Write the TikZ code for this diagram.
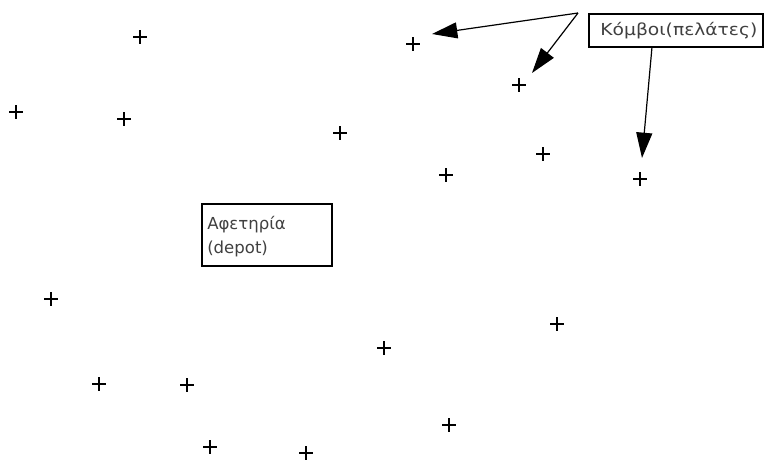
\documentclass[tikz,border=0pt]{standalone}
\usepackage{fontspec}
\setmainfont{DejaVu Sans}
\newfontfamily\widefont[FakeStretch=1.13]{DejaVu Sans}
\usetikzlibrary{shapes.misc,arrows.meta}
\begin{document}
\begin{tikzpicture}[x=0.75pt,y=-0.75pt,
  cross/.style={cross out,draw,rotate=45,minimum size=6.5pt,inner sep=0pt,line width=0.85pt},
  labelfont/.style={font=\fontsize{12.4}{18}\selectfont,text=black!75},
  labelbox/.style={draw,line width=0.9pt,inner sep=0pt,labelfont},
  pointer/.style={line width=0.9pt,-{Triangle[length=19pt,width=12pt]}}]
\useasboundingbox (0,0) rectangle (771,463);
\foreach \i/\x/\y in {1/140/37,2/413/44,3/519/85,4/16/112,5/124/119,6/340/133,7/543/154,8/446/175,9/640/179,10/51/299,11/557/324,12/384/348,13/99/384,14/187/385,15/449/425,16/210/447,17/306/453}
  \node[cross] (c\i) at (\x,\y) {};
\node[labelbox,minimum width=130.5pt,minimum height=24.75pt,text width=122pt,align=right] (nodes) at (676,30.5) {\widefont Κόμβοι(πελάτες)};
\node[labelbox,minimum width=97.5pt,minimum height=46.5pt] (depot) at (267,235) {};
\node[labelfont,align=left,anchor=north west,inner sep=0pt] (depottext) at (207,216) {Αφετηρία\\(depot)};
\coordinate (s1) at (578,13);
\coordinate (t1) at (432,34);
\coordinate (t2) at (532,73);
\coordinate (s3) at (652,47);
\coordinate (t3) at (642,158);
\draw[pointer] (s1) -- (t1);
\draw[pointer] (s1) -- (t2);
\draw[pointer] (s3) -- (t3);
\end{tikzpicture}
\end{document}
